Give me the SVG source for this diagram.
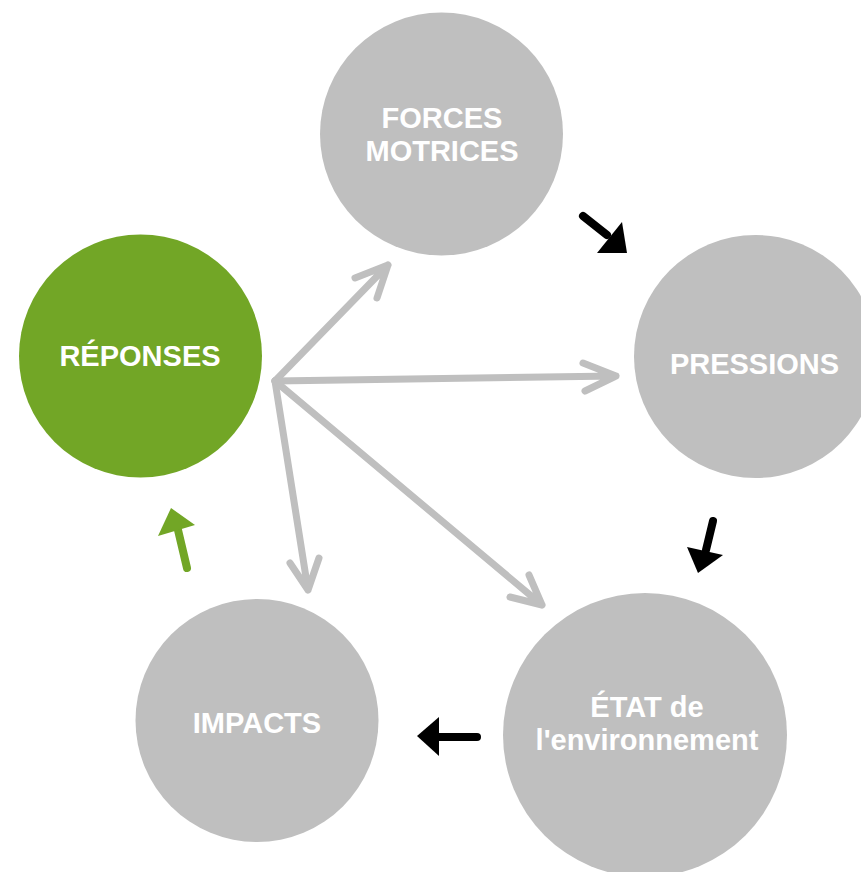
<svg xmlns="http://www.w3.org/2000/svg" width="861" height="872" viewBox="0 0 861 872">
<style>
.node{fill:#bfbfbf}
.resp{fill:#72a626}
.lbl{font-family:"Liberation Sans",Arial,sans-serif;font-weight:bold;font-size:29px;fill:#ffffff;text-anchor:middle}
.gray{fill:none;stroke:#bfbfbf;stroke-width:7;stroke-linecap:round;stroke-linejoin:round}
.blk{stroke:#000;stroke-width:8;stroke-linecap:round;fill:none}
.grn{stroke:#72a626;stroke-width:8;stroke-linecap:round;fill:none}
</style>
<rect width="861" height="872" fill="#ffffff"/>
<g id="forces">
<circle class="node" cx="441.5" cy="134" r="121.5"/>
<text class="lbl" x="442" y="127.5">FORCES</text>
<text class="lbl" x="442" y="160.5">MOTRICES</text>
</g>
<g id="pressions">
<circle class="node" cx="755.5" cy="356.5" r="121.5"/>
<text class="lbl" x="754.5" y="374">PRESSIONS</text>
</g>
<g id="etat">
<circle class="node" cx="645" cy="735" r="142"/>
<text class="lbl" x="647" y="717">ÉTAT de</text>
<text class="lbl" x="647" y="749.5">l'environnement</text>
</g>
<g id="impacts">
<circle class="node" cx="257" cy="720.5" r="121.5"/>
<text class="lbl" x="257" y="733">IMPACTS</text>
</g>
<g id="reponses">
<circle class="resp" cx="140.5" cy="356" r="121.5"/>
<text class="lbl" x="140" y="366">RÉPONSES</text>
</g>
<g id="connectors">
<path class="gray" d="M275 381 L388 265 M355 278 L388 265 L377 298"/>
<path class="gray" d="M275 381 L616 376 M583 363 L616 376 L585 391"/>
<path class="gray" d="M275 381 L308 590 M290 563 L308 590 L319 558"/>
<path class="gray" d="M275 381 L542 605 M510 597 L542 605 L529 575"/>
<line class="blk" x1="583" y1="216" x2="607" y2="235"/>
<polygon points="622,222 597,253 627,253" fill="#000"/>
<line class="blk" x1="713" y1="521" x2="706" y2="550"/>
<polygon points="687,547 723,555 698,573" fill="#000"/>
<line class="blk" x1="477" y1="737" x2="432" y2="737"/>
<polygon points="417,736 439,717 439,756" fill="#000"/>
<line class="grn" x1="187" y1="568" x2="178" y2="530"/>
<polygon points="171,508 158,536 195,525" fill="#72a626"/>
</g>
</svg>
